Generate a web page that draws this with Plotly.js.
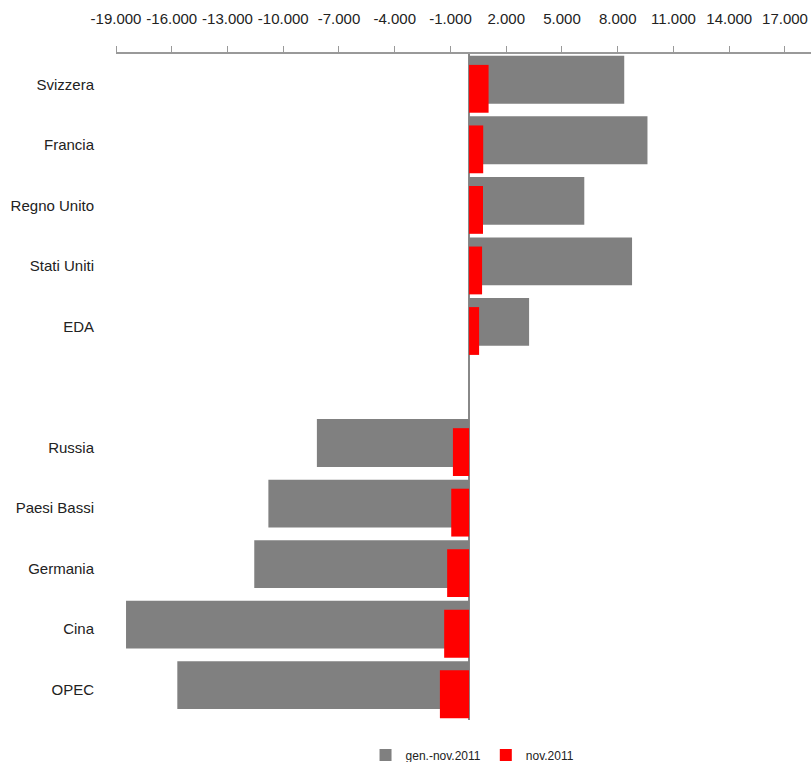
<!DOCTYPE html>
<html>
<head>
<meta charset="utf-8">
<script src="https://cdn.plot.ly/plotly-3.0.1.min.js"></script>
<style>
  html, body { margin: 0; padding: 0; background: #fff; }
  #chart { width: 811px; height: 762px; }
</style>
</head>
<body>
<div id="chart"></div>
<script>
// Categories (top to bottom); empty string = gap row
var categories = ['Svizzera', 'Francia', 'Regno Unito', 'Stati Uniti', 'EDA', '',
                  'Russia', 'Paesi Bassi', 'Germania', 'Cina', 'OPEC'];
// gen.-nov.2011
var genNov2011 = [8350, 9600, 6200, 8770, 3230, null,
                  -8190, -10800, -11560, -18460, -15700];
// nov.2011
var nov2011 = [1050, 760, 750, 700, 540, null,
               -870, -960, -1180, -1340, -1570];
// x tick values
var xTicks = [-19000, -16000, -13000, -10000, -7000, -4000, -1000, 2000, 5000, 8000, 11000, 14000, 17000];

var positions = categories.map(function (c, i) { return i; });
function fmt(v) {
  var s = Math.abs(v).toString().replace(/\B(?=(\d{3})+(?!\d))/g, '.');
  return (v < 0 ? '-' : '') + s;
}

var font = "'Liberation Sans', Arial, sans-serif";

var traces = [
  {
    type: 'bar', orientation: 'h', name: 'gen.-nov.2011',
    x: genNov2011, y: positions,
    marker: { color: '#808080' },
    width: 0.79, offset: -0.47,
    hoverinfo: 'skip'
  },
  {
    type: 'bar', orientation: 'h', name: 'nov.2011',
    x: nov2011, y: positions,
    marker: { color: '#ff0000' },
    width: 0.79, offset: -0.32,
    hoverinfo: 'skip'
  }
];

var layout = {
  width: 811, height: 762,
  margin: { l: 116, r: 0, t: 54, b: 42, autoexpand: false },
  paper_bgcolor: '#fff', plot_bgcolor: '#fff',
  barmode: 'overlay',
  showlegend: true,
  font: { family: font, color: '#222' },
  xaxis: {
    side: 'top',
    range: [-19000, 18400],
    tickvals: xTicks,
    ticktext: xTicks.map(fmt),
    tickangle: 0,
    ticks: 'outside', ticklen: 6, tickcolor: '#999', tickwidth: 1,
    showline: true, linecolor: '#999', linewidth: 2,
    showgrid: false,
    zeroline: true, zerolinecolor: '#888', zerolinewidth: 2,
    tickfont: { size: 15, family: font, color: '#222' },
    ticklabelstandoff: 16,
    fixedrange: true
  },
  yaxis: {
    range: [10.5, -0.5],
    tickvals: positions,
    ticktext: categories,
    ticks: '', showline: false, showgrid: false, zeroline: false,
    tickfont: { size: 15, family: font, color: '#222' },
    ticklabelstandoff: 21,
    fixedrange: true
  },
  legend: {
    orientation: 'h',
    x: 0.513, xanchor: 'center',
    y: -0.0526, yanchor: 'middle',
    font: { size: 12, family: font, color: '#222' },
    itemwidth: 30,
    tracegroupgap: 0
  }
};

Plotly.newPlot('chart', traces, layout, { displayModeBar: false, staticPlot: true });
</script>
</body>
</html>
